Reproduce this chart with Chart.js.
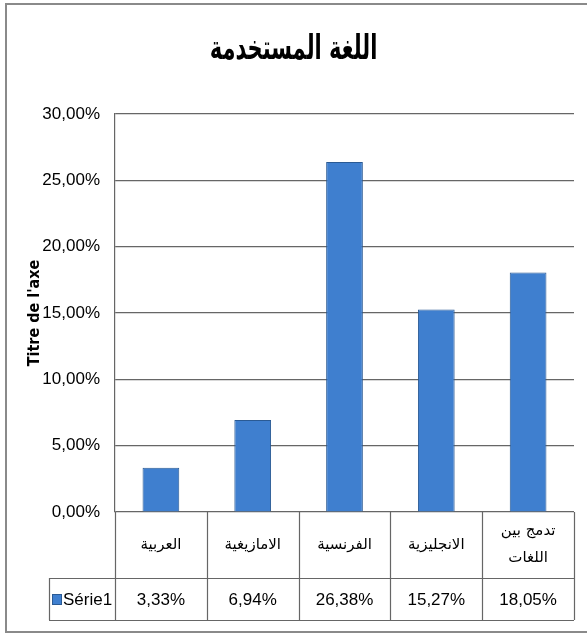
<!DOCTYPE html>
<html>
<head>
<meta charset="utf-8">
<script src="https://cdn.jsdelivr.net/npm/chart.js@4"></script>
<style>
  html, body { margin: 0; padding: 0; background: #fff; }
  #wrap { width: 587px; height: 635px; }
</style>
</head>
<body>
<div id="wrap"><canvas id="chart" width="587" height="635"></canvas></div>
<script>
const chartTitle = "اللغة المستخدمة";
const axisTitle = "Titre de l'axe";
const seriesName = "Série1";
const languages = [["العربية"], ["الامازيغية"], ["الفرنسية"], ["الانجليزية"], ["تدمج بين", "اللغات"]];
const shares = [3.33, 6.94, 26.38, 15.27, 18.05];
const yTicks = [0, 5, 10, 15, 20, 25, 30];

const plain = "'Liberation Sans', Arial, sans-serif";
const arabic = "'DejaVu Sans', sans-serif";
const lineColor = "#666666";
const barFill = "#3f7fcf";
const barEdge = "#2a5a94";

const pct = (v) => v.toFixed(2).replace(".", ",") + "%";

// white background, grey frame and the tall bold heading
const frame = {
  id: "frame",
  beforeDraw(chart) {
    const { ctx } = chart;
    ctx.save();
    ctx.fillStyle = "#fff";
    ctx.fillRect(0, 0, chart.width, chart.height);
    ctx.strokeStyle = "#8a8a8a";
    ctx.lineWidth = 2;
    ctx.strokeRect(6, 4, chart.width + 10, 628);
    ctx.restore();
  },
  afterDraw(chart) {
    const { ctx } = chart;
    ctx.save();
    ctx.translate(chart.width / 2, 50);
    ctx.scale(1, 1.6);
    ctx.fillStyle = "#000";
    ctx.textAlign = "center";
    ctx.textBaseline = "middle";
    ctx.font = `bold 21px ${arabic}`;
    ctx.fillText(chartTitle, 0, 0);
    ctx.restore();
  },
};

// data table under the plot: category row, then the series row
const dataTable = {
  id: "dataTable",
  afterDraw(chart) {
    const { ctx, chartArea } = chart;
    const x = chart.scales.x;
    const half = (x.getPixelForValue(1) - x.getPixelForValue(0)) / 2;
    const top = chartArea.bottom;
    const mid = top + 66;
    const bottom = top + 108;
    const left = 49;
    const rowY = (mid + bottom) / 2 + 1;

    ctx.save();
    ctx.strokeStyle = lineColor;
    ctx.lineWidth = 1.2;
    ctx.beginPath();
    ctx.moveTo(left, mid + 0.5);
    ctx.lineTo(chartArea.right, mid + 0.5);
    ctx.moveTo(left, bottom + 0.5);
    ctx.lineTo(chartArea.right, bottom + 0.5);
    ctx.moveTo(left + 0.5, mid);
    ctx.lineTo(left + 0.5, bottom);
    languages.forEach((_, i) => {
      const c = x.getPixelForValue(i);
      const edge = Math.round(c - half) + 0.5;
      ctx.moveTo(edge, top);
      ctx.lineTo(edge, bottom);
      if (i === languages.length - 1) {
        const r = Math.round(c + half) + 0.5;
        ctx.moveTo(r, top);
        ctx.lineTo(r, bottom);
      }
    });
    ctx.stroke();

    ctx.fillStyle = "#000";
    ctx.textAlign = "center";
    ctx.textBaseline = "middle";
    languages.forEach((lines, i) => {
      const c = x.getPixelForValue(i);
      ctx.font = `15px ${arabic}`;
      const lh = 27;
      const y0 = (top + mid) / 2 - ((lines.length - 1) * lh) / 2;
      lines.forEach((t, k) => ctx.fillText(t, c, y0 + k * lh));
      ctx.font = `17px ${plain}`;
      ctx.fillText(pct(shares[i]), c, rowY);
    });

    ctx.fillStyle = barFill;
    ctx.fillRect(52, rowY - 6, 10, 11);
    ctx.strokeStyle = barEdge;
    ctx.lineWidth = 1;
    ctx.strokeRect(52.5, rowY - 5.5, 9, 10);
    ctx.fillStyle = "#000";
    ctx.textAlign = "left";
    ctx.font = `17px ${plain}`;
    ctx.fillText(seriesName, 63, rowY);
    ctx.restore();
  },
};

new Chart(document.getElementById("chart"), {
  type: "bar",
  data: {
    labels: languages,
    datasets: [
      {
        label: seriesName,
        data: shares,
        backgroundColor: barFill,
        borderColor: barEdge,
        borderWidth: 1,
        barPercentage: 0.4,
        categoryPercentage: 1,
      },
    ],
  },
  options: {
    responsive: false,
    animation: false,
    layout: { padding: { left: 0, top: 114, right: 13, bottom: 123 } },
    plugins: {
      legend: { display: false },
      tooltip: { enabled: false },
      title: { display: false },
    },
    scales: {
      x: {
        grid: { display: false, drawTicks: false },
        border: { display: false },
        ticks: { display: false },
        afterFit(scale) {
          scale.height = 0;
        },
      },
      y: {
        min: 0,
        max: 30,
        afterBuildTicks(scale) {
          scale.ticks = yTicks.map((v) => ({ value: v }));
        },
        afterFit(scale) {
          scale.width = 115;
        },
        grid: { color: lineColor, lineWidth: 1.2, drawTicks: false },
        border: { color: lineColor, width: 1.2 },
        ticks: {
          padding: 15,
          color: "#000",
          font: { family: plain, size: 17 },
          callback: (v) => pct(v),
        },
        title: {
          display: true,
          text: axisTitle,
          color: "#000",
          font: { family: "'DejaVu Sans Condensed', 'DejaVu Sans', sans-serif", size: 16, weight: "bold" },
          padding: { top: 25, bottom: 0 },
        },
      },
    },
  },
  plugins: [frame, dataTable],
});
</script>
</body>
</html>
